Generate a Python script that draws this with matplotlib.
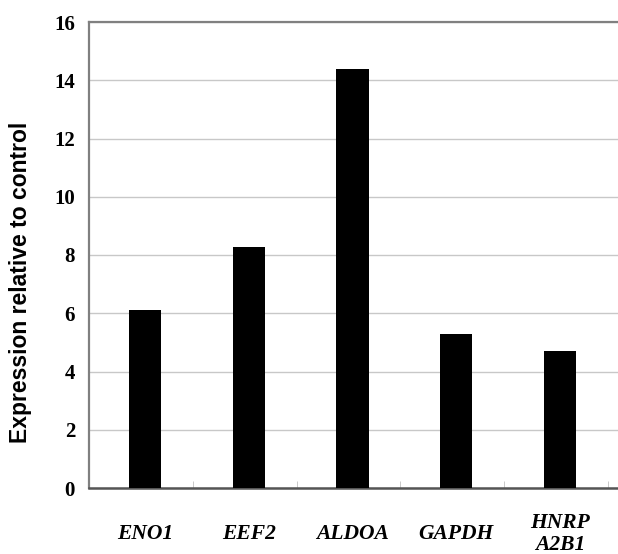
import matplotlib
matplotlib.use("Agg")
import matplotlib.pyplot as plt
import numpy as np

categories = ["ENO1", "EEF2", "ALDOA", "GAPDH", "HNRP\nA2B1"]
values = [6.1, 8.28, 14.4, 5.28, 4.7]
yticks = [0, 2, 4, 6, 8, 10, 12, 14, 16]

fig = plt.figure(figsize=(6.18, 5.54), dpi=100)
ax = fig.add_axes([89/618, 1-488/554, 1-89/618, (488-22)/554])

x = np.arange(len(categories))
ax.bar(x, values, width=0.31, color="black", zorder=3)

left = -0.54
ax.set_xlim(left, left + (618-89)/103.75)
ax.set_ylim(0, 16)
ax.set_yticks(yticks)
ax.set_yticklabels([str(t) for t in yticks], fontfamily="Liberation Serif",
                   fontweight="bold", fontsize=15)
ax.tick_params(axis="y", length=0, pad=10)
ax.grid(axis="y", color="#c8c8c8", linewidth=1.0, zorder=0)

ax.set_xticks(x)
ax.set_xticklabels(categories, fontfamily="Liberation Serif", fontweight="bold",
                   fontstyle="italic", fontsize=15.5, linespacing=1.15)
for lab in ax.get_xticklabels():
    lab.set_verticalalignment("center")
ax.tick_params(axis="x", length=0, pad=33)
ax.set_xticks(x + 0.46, minor=True)
ax.tick_params(axis="x", which="minor", direction="in", length=5, color="#c0c0c0")

for s in ["top", "left"]:
    ax.spines[s].set_color("#808080")
    ax.spines[s].set_linewidth(1.6)
ax.spines["bottom"].set_color("#555555")
ax.spines["bottom"].set_linewidth(1.8)
ax.spines["right"].set_visible(False)

ax.set_ylabel("Expression relative to control", fontfamily="Liberation Sans",
              fontweight="bold", fontsize=16.5)
ax.yaxis.set_label_coords((32-89)/529, (488-282)/466)

fig.savefig("out.png", dpi=100)
